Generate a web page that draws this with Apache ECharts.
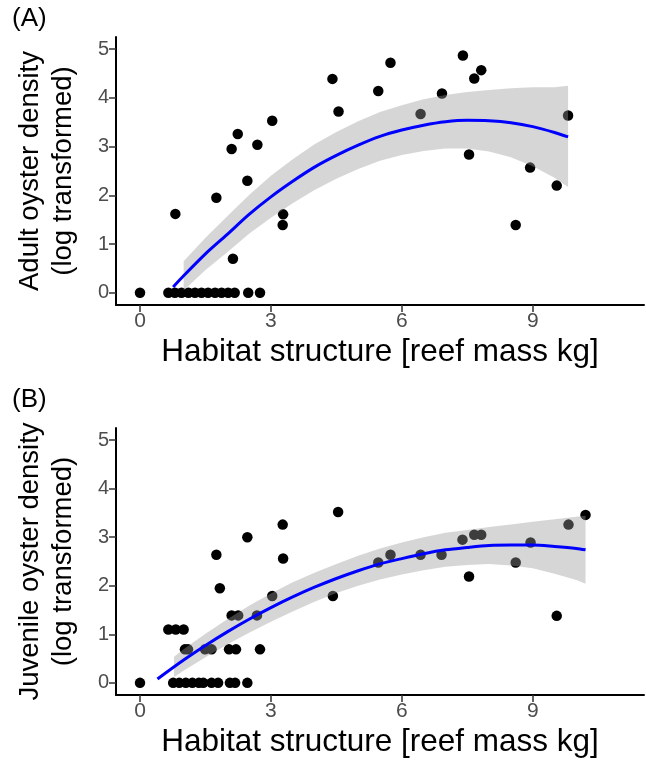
<!DOCTYPE html>
<html>
<head>
<meta charset="utf-8">
<script src="https://cdn.jsdelivr.net/npm/echarts@6/dist/echarts.min.js"></script>
<style>html,body{margin:0;padding:0;background:#fff;}#c{width:646px;height:769px;}</style>
</head>
<body>
<div id="c"></div>
<script>
// ---------- Panel A: adult oysters ----------
const adultX = [0, 0.65, 0.80, 0.95, 1.11, 1.26, 1.41, 1.56, 1.72, 1.87, 2.02, 2.17, 2.48, 2.75,
  0.81, 1.75, 2.13, 2.10, 2.24, 2.46, 2.69, 3.03, 3.28, 3.27, 4.41, 4.55, 5.46, 5.74, 6.43, 6.92, 7.40, 7.82, 7.66, 7.54, 8.94, 9.55, 8.61, 9.81];
const adultY = [0, 0, 0, 0, 0, 0, 0, 0, 0, 0, 0, 0, 0, 0,
  1.62, 1.95, 0.70, 2.95, 3.26, 2.30, 3.04, 3.53, 1.61, 1.39, 4.39, 3.72, 4.14, 4.72, 3.67, 4.09, 4.87, 4.57, 4.40, 2.84, 2.57, 2.20, 1.39, 3.64];
const adultFitX = [0.76, 1.0, 1.5, 2.0, 2.5, 3.0, 3.5, 4.0, 4.5, 5.0, 5.5, 6.0, 6.5, 7.0, 7.5, 8.0, 8.5, 9.0, 9.5, 9.81];
const adultFitY = [0.12, 0.35, 0.80, 1.20, 1.61, 1.97, 2.29, 2.58, 2.82, 3.03, 3.21, 3.34, 3.44, 3.51, 3.54, 3.53, 3.49, 3.41, 3.29, 3.20];
const adultBandX = [1.0, 1.5, 2.0, 2.5, 3.0, 3.5, 4.0, 4.5, 5.0, 5.5, 6.0, 6.5, 7.0, 7.5, 8.0, 8.5, 9.0, 9.5, 9.81];
const adultBandLow = [0.05, 0.47, 0.83, 1.21, 1.54, 1.84, 2.11, 2.34, 2.54, 2.71, 2.83, 2.91, 2.96, 2.96, 2.90, 2.78, 2.60, 2.36, 2.17];
const adultBandHigh = [0.65, 1.13, 1.57, 2.01, 2.40, 2.74, 3.05, 3.30, 3.52, 3.71, 3.85, 3.97, 4.06, 4.12, 4.16, 4.20, 4.22, 4.22, 4.25];

// ---------- Panel B: juvenile oysters ----------
const juvX = [0, 0.76, 0.90, 1.05, 1.20, 1.35, 1.45, 1.64, 1.79, 2.06, 2.18, 2.46,
  0.65, 0.82, 1.00,
  1.03, 1.10, 1.49, 1.64, 2.04, 2.20, 2.75,
  2.10, 2.25, 2.68,
  3.03, 1.83, 1.75, 2.46, 3.27, 3.28, 4.54, 4.42, 5.46, 5.74, 6.43, 6.91, 7.39, 7.66, 7.82, 7.54, 8.61, 8.95, 9.82, 10.21, 9.55];
const juvY = [0, 0, 0, 0, 0, 0, 0, 0, 0, 0, 0, 0,
  1.10, 1.10, 1.10,
  0.69, 0.69, 0.69, 0.69, 0.69, 0.69, 0.69,
  1.39, 1.39, 1.39,
  1.79, 1.95, 2.64, 3.00, 3.26, 2.56, 3.52, 1.79, 2.48, 2.64, 2.64, 2.64, 2.95, 3.05, 3.05, 2.19, 2.48, 2.89, 3.26, 3.46, 1.38];
const juvFitX = [0.40, 1.0, 1.5, 2.0, 2.5, 3.0, 3.5, 4.0, 4.5, 5.0, 5.5, 6.0, 6.5, 7.0, 7.5, 8.0, 8.5, 9.0, 9.5, 10.0, 10.21];
const juvFitY = [0.08, 0.47, 0.77, 1.05, 1.31, 1.55, 1.77, 1.97, 2.15, 2.31, 2.45, 2.56, 2.66, 2.74, 2.79, 2.83, 2.84, 2.84, 2.81, 2.77, 2.74];
const juvBandX = [0.78, 1.0, 1.5, 2.0, 2.5, 3.0, 3.5, 4.0, 4.5, 5.0, 5.5, 6.0, 6.5, 7.0, 7.5, 8.0, 8.5, 9.0, 9.5, 10.0, 10.21];
const juvBandLow = [0.12, 0.25, 0.53, 0.79, 1.03, 1.26, 1.47, 1.67, 1.85, 2.00, 2.13, 2.23, 2.32, 2.39, 2.43, 2.45, 2.42, 2.36, 2.25, 2.12, 2.04];
const juvBandHigh = [0.54, 0.69, 1.01, 1.31, 1.59, 1.84, 2.07, 2.27, 2.45, 2.62, 2.77, 2.89, 3.00, 3.09, 3.15, 3.21, 3.26, 3.32, 3.37, 3.42, 3.44];

// ---------- tick labels / text ----------
const xTicks = [0, 3, 6, 9];
const yTicks = [0, 1, 2, 3, 4, 5];
const xTitle = 'Habitat structure [reef mass kg]';
const yTitleA = 'Adult oyster density\n(log transformed)';
const yTitleB = 'Juvenile oyster density\n(log transformed)';
const panelLabels = ['(A)', '(B)'];

const FONT = '"Liberation Sans", Arial, Helvetica, sans-serif';
const zip = (a, b) => a.map((v, i) => [v, b[i]]);

function xAxisDef(gi) {
  return {
    type: 'value', gridIndex: gi, min: -0.55, max: 11.55,
    axisLine: { show: true, onZero: false, lineStyle: { color: '#000', width: 2 } },
    axisTick: { show: true, length: 7, customValues: xTicks, lineStyle: { color: '#333', width: 1.5 } },
    axisLabel: { customValues: xTicks, color: '#4d4d4d', fontSize: 21, margin: 6, fontFamily: FONT },
    splitLine: { show: false },
    name: xTitle, nameLocation: 'middle', nameGap: 31,
    nameTextStyle: { color: '#000', fontSize: 31.5, fontFamily: FONT }
  };
}
function yAxisDef(gi, title) {
  return {
    type: 'value', gridIndex: gi, min: -0.25, max: 5.25,
    axisLine: { show: true, onZero: false, lineStyle: { color: '#000', width: 2 } },
    axisTick: { show: true, length: 7, customValues: yTicks, lineStyle: { color: '#333', width: 1.5 } },
    axisLabel: { customValues: yTicks, color: '#4d4d4d', fontSize: 20, margin: 7, fontFamily: FONT },
    splitLine: { show: false },
    name: title, nameLocation: 'middle', nameGap: 36, nameRotate: 90,
    nameTextStyle: { color: '#000', fontSize: 27.5, lineHeight: 33, fontFamily: FONT, align: 'center' }
  };
}
function bandSeries(gi, bx, lo, hi) {
  return {
    type: 'custom', xAxisIndex: gi, yAxisIndex: gi, z: 3, silent: true,
    data: [0],
    renderItem: function (params, api) {
      const pts = [];
      for (let i = 0; i < bx.length; i++) pts.push(api.coord([bx[i], hi[i]]));
      for (let i = bx.length - 1; i >= 0; i--) pts.push(api.coord([bx[i], lo[i]]));
      return { type: 'polygon', shape: { points: pts }, style: { fill: 'rgba(153,153,153,0.4)' } };
    }
  };
}
function pointSeries(gi, xs, ys) {
  return { type: 'scatter', xAxisIndex: gi, yAxisIndex: gi, z: 2, symbolSize: 10.5,
    itemStyle: { color: '#000', opacity: 1 }, data: zip(xs, ys) };
}
function fitSeries(gi, xs, ys) {
  return { type: 'line', xAxisIndex: gi, yAxisIndex: gi, z: 4, showSymbol: false, smooth: 0.3,
    lineStyle: { color: '#0000ff', width: 3 }, data: zip(xs, ys) };
}

const chart = echarts.init(document.getElementById('c'), null, { renderer: 'canvas' });
chart.setOption({
  animation: false,
  backgroundColor: '#fff',
  grid: [
    { left: 116, top: 37, width: 528, height: 268 },
    { left: 116, top: 428, width: 528, height: 267 }
  ],
  xAxis: [xAxisDef(0), xAxisDef(1)],
  yAxis: [yAxisDef(0, yTitleA), yAxisDef(1, yTitleB)],
  graphic: [
    { type: 'text', left: 12, top: 6, style: { text: panelLabels[0], fill: '#000', font: '26px ' + FONT } },
    { type: 'text', left: 12, top: 387, style: { text: panelLabels[1], fill: '#000', font: '26px ' + FONT } }
  ],
  series: [
    pointSeries(0, adultX, adultY),
    bandSeries(0, adultBandX, adultBandLow, adultBandHigh),
    fitSeries(0, adultFitX, adultFitY),
    pointSeries(1, juvX, juvY),
    bandSeries(1, juvBandX, juvBandLow, juvBandHigh),
    fitSeries(1, juvFitX, juvFitY)
  ]
});
</script>
</body>
</html>
